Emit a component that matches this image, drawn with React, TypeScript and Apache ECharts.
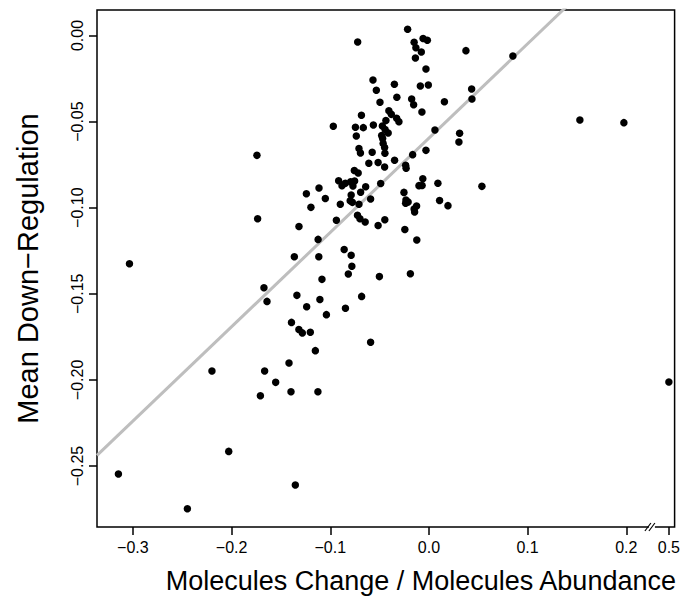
import React, { useEffect, useRef } from "react";
import * as echarts from "echarts";

// Molecules Change / Molecules Abundance (x) and Mean Down-Regulation (y)
const changeRatio: number[] = [
  -0.0216, -0.0722, -0.015, -0.0059, -0.0016, -0.0132, -0.0077, -0.0137, 0.0375, 0.0851,
  -0.003, -0.0567, -0.0533, -0.035, -0.0087, -0.0006, 0.0433, -0.0325, -0.0175, -0.0155,
  -0.0496, 0.0157, 0.0436, -0.0071, -0.0406, -0.0381, -0.0684, 0.153, 0.1976, -0.0969,
  -0.0745, -0.0665, -0.0563, -0.0436, -0.0327, -0.0304, -0.0472, -0.0444, -0.0413, -0.0479,
  -0.0469, -0.0736, 0.0061, 0.0311, 0.0304, -0.0709, -0.0694, -0.0575, -0.0464, -0.0449,
  -0.0446, -0.003, -0.0165, -0.0348, -0.1743, -0.0609, -0.0515, -0.0449, -0.0236, -0.0231,
  -0.0756, -0.0717, -0.0915, -0.0881, -0.0847, -0.0793, -0.077, -0.0753, -0.0641, -0.0489,
  -0.0062, -0.0101, -0.0069, 0.0091, 0.0537, -0.1114, -0.1242, -0.105, -0.1196, -0.0898,
  -0.0788, -0.0798, -0.0776, -0.0692, -0.0591, -0.0709, -0.0253, -0.0233, -0.0236, -0.0211,
  -0.0125, -0.015, -0.0145, 0.0108, 0.0193, -0.1736, -0.1317, -0.0938, -0.0724, -0.0699,
  -0.0646, -0.0515, -0.0447, -0.0244, -0.0123, -0.1123, -0.0859, -0.0788, -0.1364, -0.1116,
  -0.0781, -0.0817, -0.0502, -0.0188, -0.1084, -0.3035, -0.1672, -0.1641, -0.1338, -0.1105,
  -0.1239, -0.1039, -0.0682, -0.0846, -0.1393, -0.1318, -0.1283, -0.1202, -0.0591, -0.1151,
  -0.2199, -0.1665, -0.1418, -0.1553, -0.1708, -0.1398, -0.1125, -0.2029, -0.3147, -0.1354,
  -0.2448, 0.5,
];
const meanDownRegulation: number[] = [
  0.0036, -0.0038, -0.0039, -0.0017, -0.0028, -0.0071, -0.0096, -0.0131, -0.0088, -0.0119,
  -0.0195, -0.0258, -0.0318, -0.0283, -0.0293, -0.0287, -0.0311, -0.0359, -0.0369, -0.0402,
  -0.0388, -0.0385, -0.0369, -0.0444, -0.0437, -0.0458, -0.0463, -0.0491, -0.0506, -0.0527,
  -0.0533, -0.0535, -0.052, -0.0494, -0.0481, -0.0501, -0.0526, -0.0546, -0.0566, -0.0581,
  -0.0598, -0.0584, -0.0549, -0.0568, -0.0618, -0.0656, -0.0682, -0.0678, -0.0627, -0.065,
  -0.0684, -0.0667, -0.0692, -0.0724, -0.0696, -0.0742, -0.0738, -0.0764, -0.0753, -0.0771,
  -0.0784, -0.0798, -0.0843, -0.0872, -0.0858, -0.0849, -0.0874, -0.0845, -0.0878, -0.0859,
  -0.0832, -0.0872, -0.0871, -0.0858, -0.0876, -0.0886, -0.0919, -0.0947, -0.0998, -0.098,
  -0.0926, -0.0959, -0.0969, -0.091, -0.0949, -0.098, -0.0911, -0.0955, -0.0974, -0.0967,
  -0.099, -0.1008, -0.1025, -0.0958, -0.0988, -0.1064, -0.1109, -0.1073, -0.1044, -0.1064,
  -0.1083, -0.1103, -0.107, -0.1127, -0.1188, -0.1184, -0.1243, -0.1276, -0.1285, -0.1285,
  -0.134, -0.1385, -0.14, -0.1383, -0.1416, -0.1325, -0.1465, -0.1544, -0.1509, -0.1533,
  -0.1575, -0.1621, -0.1515, -0.1584, -0.1666, -0.1707, -0.1727, -0.1723, -0.1781, -0.183,
  -0.1948, -0.1948, -0.1902, -0.2014, -0.2092, -0.2069, -0.2069, -0.2415, -0.2546, -0.261,
  -0.2748, -0.2012,
];

// Fitted regression line
const lineIntercept = -0.0596;
const lineSlope = 0.5477;

// Axis ranges and ticks
const xMin = -0.3364;
const xMax = 0.249;
const yMin = -0.2854;
const yMax = 0.0148;
const xTickValues = [-0.3, -0.2, -0.1, 0.0, 0.1, 0.2, 0.5];
const xTickLabels = ["\u22120.3", "\u22120.2", "\u22120.1", "0.0", "0.1", "0.2", "0.5"];
const yTickValues = [0.0, -0.05, -0.1, -0.15, -0.2, -0.25];
const yTickLabels = ["0.00", "\u22120.05", "\u22120.10", "\u22120.15", "\u22120.20", "\u22120.25"];

// Broken x axis: values beyond breakStart are shifted so 0.5 sits at breakShownAt
const breakStart = 0.226;
const breakValue = 0.5;
const breakShownAt = 0.2432;
const toAxisX = (v: number) => (v > breakStart ? v - (breakValue - breakShownAt) : v);

const FONT = "'Liberation Sans', Arial, Helvetica, sans-serif";

export default function App() {
  const ref = useRef<HTMLDivElement>(null);
  useEffect(() => {
    if (!ref.current) return;
    const chart = echarts.init(ref.current, undefined, { renderer: "svg" });
    const points = changeRatio.map((x, i) => [toAxisX(x), meanDownRegulation[i]]);
    const xTickPos = xTickValues.map(toAxisX);
    const labelFor = (v: number, pos: number[], labels: string[]) => {
      let best = 0;
      pos.forEach((p, i) => {
        if (Math.abs(p - v) < Math.abs(pos[best] - v)) best = i;
      });
      return labels[best];
    };
    chart.setOption({
      animation: false,
      backgroundColor: "#ffffff",
      grid: {
        left: 97,
        top: 10,
        right: 8,
        bottom: 77,
        show: true,
        borderColor: "#000000",
        borderWidth: 1.5,
        containLabel: false,
      },
      xAxis: {
        type: "value",
        min: xMin,
        max: xMax,
        splitLine: { show: false },
        axisLine: { show: false, onZero: false },
        axisTick: {
          show: true,
          inside: false,
          length: 8,
          customValues: xTickPos,
          lineStyle: { color: "#000", width: 1.5 },
        },
        axisLabel: {
          show: true,
          customValues: xTickPos,
          margin: 12,
          fontSize: 16,
          fontFamily: FONT,
          color: "#000",
          formatter: (v: number) => labelFor(v, xTickPos, xTickLabels),
        },
        name: "Molecules Change / Molecules Abundance",
        nameLocation: "middle",
        nameGap: 40,
        nameTextStyle: {
          fontSize: 27,
          fontFamily: FONT,
          color: "#000",
          padding: [0, 0, 0, 70],
        },
      },
      yAxis: {
        type: "value",
        min: yMin,
        max: yMax,
        splitLine: { show: false },
        axisLine: { show: false, onZero: false },
        axisTick: {
          show: true,
          inside: false,
          length: 8,
          customValues: yTickValues,
          lineStyle: { color: "#000", width: 1.5 },
        },
        axisLabel: {
          show: true,
          customValues: yTickValues,
          rotate: 90,
          margin: 12,
          fontSize: 16,
          fontFamily: FONT,
          color: "#000",
          formatter: (v: number) => labelFor(v, yTickValues, yTickLabels),
        },
        name: "Mean Down\u2212Regulation",
        nameLocation: "middle",
        nameGap: 55,
        nameRotate: 90,
        nameTextStyle: { fontSize: 29, fontFamily: FONT, color: "#000" },
      },
      series: [
        {
          type: "line",
          data: [
            [xMin, lineIntercept + lineSlope * xMin],
            [xMax, lineIntercept + lineSlope * xMax],
          ],
          showSymbol: false,
          symbol: "none",
          clip: true,
          lineStyle: { color: "#bebebe", width: 3 },
          z: 1,
          silent: true,
        },
        {
          type: "scatter",
          data: points,
          symbol: "circle",
          symbolSize: 7.5,
          itemStyle: { color: "#000000", opacity: 1 },
          z: 2,
          clip: false,
        },
        {
          type: "custom",
          data: [[breakStart, yMin]],
          clip: false,
          z: 5,
          silent: true,
          renderItem: (_params: any, api: any) => {
            const p = api.coord([api.value(0), api.value(1)]);
            const cx = p[0];
            const cy = p[1];
            return {
              type: "group",
              children: [
                {
                  type: "rect",
                  shape: { x: cx - 3, y: cy - 2, width: 6, height: 4 },
                  style: { fill: "#ffffff" },
                },
                {
                  type: "line",
                  shape: { x1: cx - 7, y1: cy + 4, x2: cx - 1, y2: cy - 4 },
                  style: { stroke: "#000", lineWidth: 1.2 },
                },
                {
                  type: "line",
                  shape: { x1: cx - 3, y1: cy + 4, x2: cx + 3, y2: cy - 4 },
                  style: { stroke: "#000", lineWidth: 1.2 },
                },
              ],
            };
          },
        },
      ],
    });
    return () => chart.dispose();
  }, []);
  return (
    <div
      ref={ref}
      style={{ position: "fixed", left: 0, top: 0, width: 683, height: 604, background: "#fff" }}
    />
  );
}
